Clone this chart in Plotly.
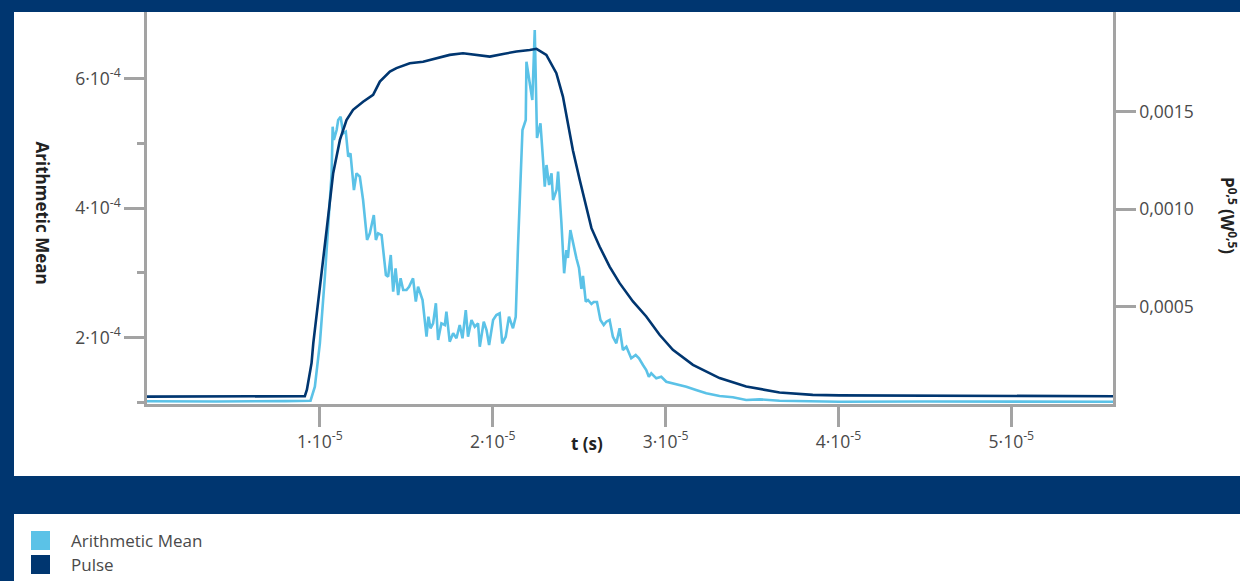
import plotly.graph_objects as go

# ---------------- data ----------------
# time in microseconds
pulse_t_us = [0, 5.95, 9.13, 9.25, 9.52, 9.62, 10.0, 10.39, 10.77, 11.16, 11.54, 11.92,
              12.50, 13.08, 13.47, 14.05, 14.43, 15.20, 15.97, 16.75, 17.51, 18.28, 19.06,
              19.83, 20.60, 21.37, 22.14, 22.53, 23.10, 23.68, 24.06, 24.35, 24.64, 25.03,
              25.42, 25.71, 26.18, 26.76, 27.34, 28.11, 28.88, 29.65, 30.42, 31.58, 33.12,
              34.66, 36.59, 38.51, 40.06, 56.0]
# P^0.5 in units of 1e-3 W^0.5
pulse_p_milli = [0.038, 0.038, 0.040, 0.073, 0.211, 0.312, 0.586, 0.893, 1.184, 1.355, 1.457,
                 1.509, 1.551, 1.586, 1.654, 1.705, 1.723, 1.748, 1.756, 1.774, 1.791, 1.799,
                 1.791, 1.782, 1.796, 1.808, 1.816, 1.822, 1.791, 1.697, 1.577, 1.430, 1.300,
                 1.150, 1.013, 0.902, 0.808, 0.705, 0.620, 0.526, 0.449, 0.355, 0.278, 0.201,
                 0.133, 0.090, 0.059, 0.047, 0.044, 0.040]

mean_t_us = [0, 4.0, 8.0, 9.46, 9.71, 10.0, 10.29, 10.49, 10.68, 10.74, 10.81, 10.97, 11.06,
             11.20, 11.35, 11.50, 11.64, 11.77, 11.97, 12.12, 12.31, 12.50, 12.73, 12.89,
             13.12, 13.24, 13.37, 13.57, 13.82, 13.95, 14.10, 14.24, 14.38, 14.53, 14.67,
             14.82, 15.01, 15.16, 15.39, 15.55, 15.68, 15.94, 16.17, 16.28, 16.40, 16.55,
             16.71, 16.84, 17.03, 17.23, 17.32, 17.51, 17.71, 17.90, 18.09, 18.25, 18.44,
             18.57, 18.77, 18.96, 19.15, 19.25, 19.48, 19.64, 19.79, 20.02, 20.21, 20.40,
             20.55, 20.75, 20.94, 21.17, 21.33, 21.46, 21.60, 21.72, 21.91, 21.95, 22.29,
             22.43, 22.56, 22.76, 22.91, 23.01, 23.11, 23.26, 23.40, 23.49, 23.69, 23.78,
             23.97, 24.13, 24.26, 24.35, 24.49, 24.64, 24.84, 24.99, 25.13, 25.22, 25.38,
             25.51, 25.71, 25.84, 26.03, 26.23, 26.42, 26.57, 26.76, 26.95, 27.15, 27.34,
             27.53, 27.73, 28.01, 28.27, 28.46, 28.69, 28.88, 29.03, 29.17, 29.46, 29.75,
             30.04, 30.42, 30.71, 31.20, 31.76, 32.35, 33.12, 33.89, 34.66, 35.43, 36.59,
             38.51, 40.06, 45.0, 50.0, 56.0]
# arithmetic mean in units of 1e-4
mean_v = [1.020, 1.015, 1.022, 1.028, 1.244, 1.914, 2.941, 3.765, 4.537, 5.256, 5.051, 5.205,
          5.360, 5.410, 5.154, 5.179, 4.793, 4.846, 4.279, 4.537, 4.485, 4.125, 3.508, 3.611,
          3.893, 3.508, 3.611, 3.585, 2.968, 2.941, 3.276, 2.710, 3.071, 2.659, 2.917, 2.736,
          2.736, 2.787, 2.917, 2.556, 2.787, 2.582, 2.015, 2.324, 2.145, 2.222, 2.531, 1.965,
          2.222, 2.196, 2.401, 1.938, 2.068, 1.991, 2.196, 1.991, 2.427, 2.015, 2.273, 2.170,
          2.222, 1.861, 2.247, 2.119, 1.887, 2.273, 2.350, 2.377, 1.914, 2.015, 2.324, 2.145,
          2.324, 3.404, 4.279, 5.205, 5.360, 6.259, 5.668, 6.748, 5.082, 5.309, 4.742, 4.330,
          4.665, 4.356, 4.537, 4.125, 4.279, 4.562, 3.785, 2.994, 3.353, 3.230, 3.662, 3.457,
          3.225, 3.076, 2.752, 2.952, 2.556, 2.582, 2.520, 2.551, 2.551, 2.273, 2.196, 2.247,
          2.273, 2.015, 1.914, 2.145, 1.810, 1.861, 1.682, 1.733, 1.682, 1.579, 1.502, 1.398,
          1.451, 1.373, 1.398, 1.321, 1.296, 1.270, 1.244, 1.193, 1.142, 1.100, 1.080, 1.039,
          1.049, 1.028, 1.019, 1.012, 1.015, 1.010, 1.012]

x_tickvals = [1e-5, 2e-5, 3e-5, 4e-5, 5e-5]
x_ticktext = ["1·10<sup>-5</sup>", "2·10<sup>-5</sup>", "3·10<sup>-5</sup>",
              "4·10<sup>-5</sup>", "5·10<sup>-5</sup>"]
yl_tickvals = [2e-4, 4e-4, 6e-4]
yl_ticktext = ["2·10<sup>-4</sup>", "4·10<sup>-4</sup>", "6·10<sup>-4</sup>"]
yl_minorvals = [1e-4, 3e-4, 5e-4]
yr_tickvals = [0.0005, 0.0010, 0.0015]
yr_ticktext = ["0,0005", "0,0010", "0,0015"]

series_names = ["Arithmetic Mean", "Pulse"]

# ---------------- style ----------------
NAVY = "#003670"
LIGHT = "#5BC2E7"
AXIS = "#A3A3A3"
TXT = "#4A4A4A"
FONT = "Open Sans"

W, H = 1240, 581
L, R, T, B = 147, 1240 - 1113, 12, 581 - 404
PW, PH = W - L - R, H - T - B


def px(xp):
    return (xp - L) / PW


def py(yp):
    return (H - B - yp) / PH


fig = go.Figure()
fig.add_trace(go.Scatter(
    x=[t * 1e-6 for t in mean_t_us], y=[v * 1e-4 for v in mean_v],
    mode="lines", name=series_names[0], yaxis="y",
    line=dict(color=LIGHT, width=2.6), showlegend=False))
fig.add_trace(go.Scatter(
    x=[t * 1e-6 for t in pulse_t_us], y=[p * 1e-3 for p in pulse_p_milli],
    mode="lines", name=series_names[1], yaxis="y2",
    line=dict(color=NAVY, width=2.6), showlegend=False))

tickfont = dict(family=FONT, size=17.5, color=TXT)

fig.update_layout(
    width=W, height=H,
    margin=dict(l=L, r=R, t=T, b=B, pad=0),
    paper_bgcolor=NAVY, plot_bgcolor="white",
    showlegend=False,
    xaxis=dict(range=[0, 5.588e-5], tickmode="array", tickvals=x_tickvals,
               ticktext=x_ticktext, ticks="outside", ticklen=20, tickwidth=2.5,
               tickcolor=AXIS, showline=True, linecolor=AXIS, linewidth=2.5,
               showgrid=False, zeroline=False, tickfont=tickfont),
    yaxis=dict(range=[0.977e-4, 7.026e-4], tickmode="array", tickvals=yl_tickvals,
               ticktext=yl_ticktext, ticks="outside", ticklen=20, tickwidth=2.5,
               tickcolor=AXIS, showline=True, linecolor=AXIS, linewidth=2.5,
               showgrid=False, zeroline=False, tickfont=tickfont,
               minor=dict(tickmode="array", tickvals=yl_minorvals, ticks="outside",
                          ticklen=7, tickwidth=2.5, tickcolor=AXIS, showgrid=False)),
    yaxis2=dict(range=[0, 2.011e-3], overlaying="y", side="right", tickmode="array",
                tickvals=yr_tickvals, ticktext=yr_ticktext, ticks="outside", ticklen=20,
                tickwidth=2.5, tickcolor=AXIS, showline=True, linecolor=AXIS,
                linewidth=2.5, showgrid=False, zeroline=False, tickfont=tickfont),
)

shapes = [
    dict(type="rect", xref="paper", yref="paper", x0=px(14), x1=px(1250), y0=py(476),
         y1=py(12), fillcolor="white", line=dict(width=0), layer="below"),
    dict(type="rect", xref="paper", yref="paper", x0=px(14), x1=px(1250), y0=py(590),
         y1=py(514), fillcolor="white", line=dict(width=0), layer="below"),
    dict(type="rect", xref="paper", yref="paper", x0=px(31), x1=px(50), y0=py(550),
         y1=py(531), fillcolor=LIGHT, line=dict(width=0)),
    dict(type="rect", xref="paper", yref="paper", x0=px(31), x1=px(50), y0=py(574),
         y1=py(555), fillcolor=NAVY, line=dict(width=0)),
]
fig.update_layout(shapes=shapes)

title_font = dict(family=FONT, size=17, color="#222222")
ann = [
    dict(text="<b>Arithmetic Mean</b>", x=px(42), y=py(212.5), textangle=90,
         font=title_font),
    dict(text="<b>P<sup>0,5</sup> (W<sup>0,5</sup>)</b>", x=px(1228), y=py(215),
         textangle=90, font=title_font),
    dict(text="<b>t (s)</b>", x=px(587), y=py(443), font=title_font),
    dict(text=series_names[0], x=px(69), y=py(540), xanchor="left",
         font=dict(family=FONT, size=17, color=TXT)),
    dict(text=series_names[1], x=px(69), y=py(564), xanchor="left",
         font=dict(family=FONT, size=17, color=TXT)),
]
for a in ann:
    a.setdefault("xanchor", "center")
    a.update(xref="paper", yref="paper", yanchor="middle", showarrow=False)
fig.update_layout(annotations=ann)

fig.write_html(
    "out.html",
    config={"displayModeBar": False},
    post_script="document.body.style.margin='0';document.body.style.overflow='hidden';",
)
